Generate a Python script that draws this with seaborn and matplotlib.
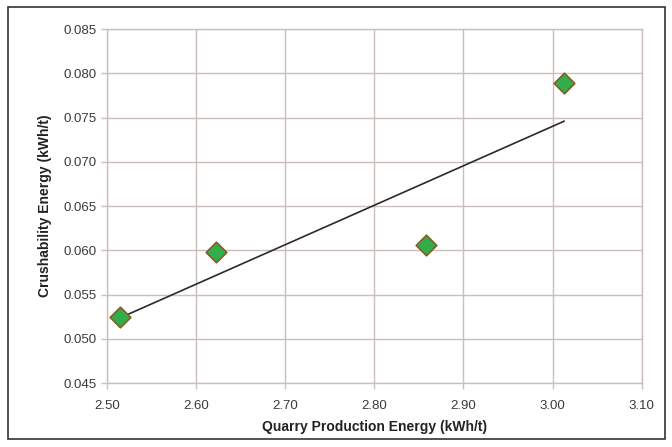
import matplotlib
matplotlib.use('Agg')
import matplotlib.pyplot as plt
import numpy as np
import pandas as pd
import seaborn as sns
from matplotlib.patches import Rectangle

# Data
quarry_energy = [2.515, 2.622, 2.858, 3.013]
crush_energy = [0.0525, 0.0598, 0.0606, 0.0789]

df = pd.DataFrame({'quarry': quarry_energy, 'crush': crush_energy})

sns.set_theme(style='white')
plt.rcParams['font.family'] = ['Liberation Sans', 'DejaVu Sans']

grid_col = '#cbbfbb'
text_col = '#3a3a3a'

fig = plt.figure(figsize=(6.72, 4.47), dpi=100)
ax = fig.add_axes([0.159, 0.143, 0.796, 0.792])

# linear trend line
slope, intercept = np.polyfit(df['quarry'], df['crush'], 1)
xl = np.array([df['quarry'].min(), df['quarry'].max()])
ax.plot(xl, slope * xl + intercept, color='#2a2a2a', lw=1.2, zorder=3)

sns.scatterplot(data=df, x='quarry', y='crush', ax=ax, marker='D', s=110,
                color='#2fae4a', edgecolor='#8a5a2a', linewidth=1.2, zorder=4)

ax.set_xlim(2.50, 3.10)
ax.set_ylim(0.045, 0.085)
ax.set_xticks(np.arange(2.50, 3.101, 0.10))
ax.set_yticks(np.arange(0.045, 0.0851, 0.005))
ax.set_xticklabels([f'{v:.2f}' for v in np.arange(2.50, 3.101, 0.10)])
ax.set_yticklabels([f'{v:.3f}' for v in np.arange(0.045, 0.0851, 0.005)])
ax.grid(True, color=grid_col, lw=1.0)
for s in ax.spines.values():
    s.set_color(grid_col)
    s.set_linewidth(1.0)
ax.tick_params(axis='both', colors=grid_col, labelcolor=text_col, labelsize=9.5,
               length=4, width=1.0, direction='out', left=True, bottom=True)
ax.tick_params(axis='x', pad=8)
ax.set_xlabel('Quarry Production Energy (kWh/t)', fontsize=10, fontweight='bold',
              color='#222222', labelpad=6)
ax.set_ylabel('Crushability Energy (kWh/t)', fontsize=10, fontweight='bold',
              color='#222222', labelpad=8)

fig.patches.append(Rectangle((8 / 672, 8 / 447), 657 / 672, 432 / 447,
                             transform=fig.transFigure, fill=False,
                             edgecolor='#333333', lw=1.2))

fig.savefig('out.png', dpi=100)
